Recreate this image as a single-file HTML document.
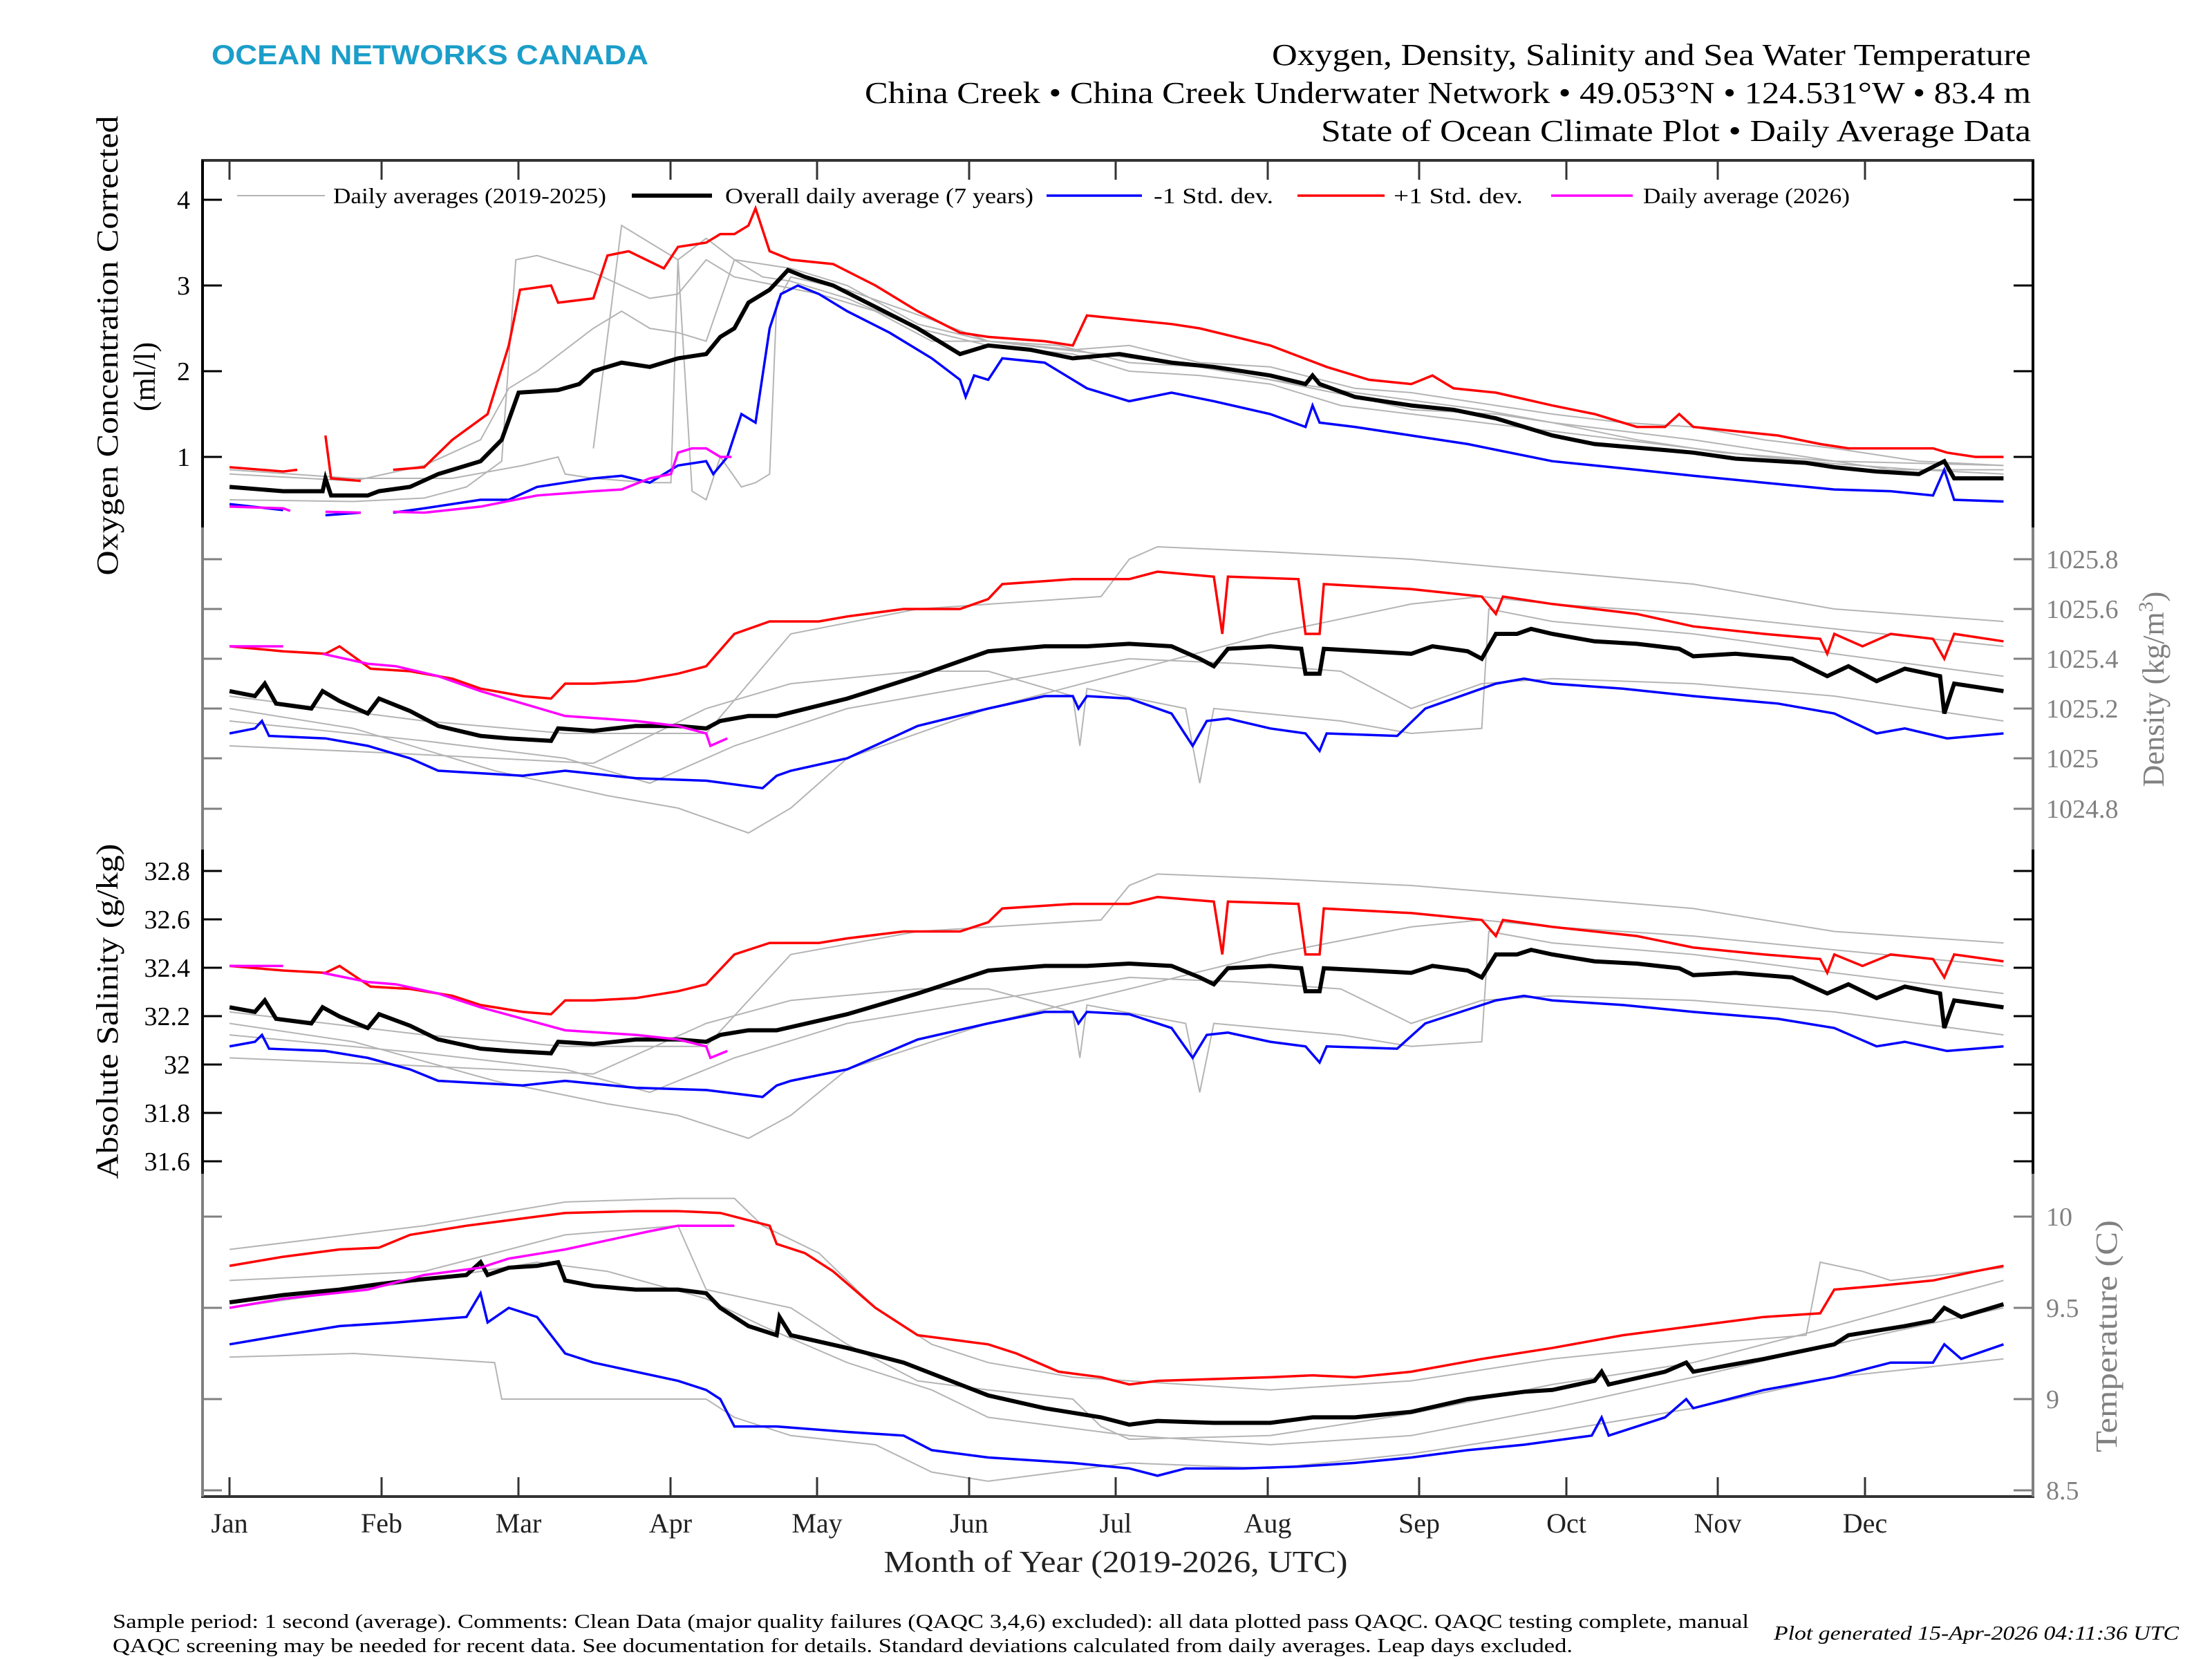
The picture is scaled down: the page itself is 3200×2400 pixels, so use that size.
<!DOCTYPE html>
<html><head><meta charset="utf-8"><style>
html,body{margin:0;padding:0;background:#fff}
svg{display:block}
text{font-family:"Liberation Serif","DejaVu Serif",serif}
</style></head><body>
<svg width="3200" height="2400" viewBox="0 0 3200 2400" xmlns="http://www.w3.org/2000/svg">
<defs>
<clipPath id="c1"><rect x="295" y="234" width="2644" height="528"/></clipPath>
<clipPath id="c2"><rect x="295" y="764" width="2644" height="464"/></clipPath>
<clipPath id="c3"><rect x="295" y="1230" width="2644" height="467"/></clipPath>
<clipPath id="c4"><rect x="295" y="1699" width="2644" height="464"/></clipPath>
<g id="dens" fill="none">
<g stroke="#b4b4b4" stroke-width="2">
<polyline vector-effect="non-scaling-stroke" points="162,0.2 250,0.12 350,-0.05 430,-0.15 480,-0.2 530,-0.3 560,-0.2 600,0 700,0.2 800,0.35 900,0.5 1000,0.62 1050,0.65 1100,0.62 1200,0.58 1300,0.52 1420,0.45"/>
<polyline vector-effect="non-scaling-stroke" points="162,0.25 300,0.15 400,0.1 500,0.1 560,0.5 650,0.6 780,0.65 800,0.8 820,0.85 900,0.83 1000,0.8 1100,0.75 1200,0.7 1300,0.6 1420,0.55"/>
<polyline vector-effect="non-scaling-stroke" points="162,0.05 280,0.02 350,0 420,-0.02 500,0.2 560,0.3 650,0.35 700,0.35 760,0.25 765,0.05 770,0.28 840,0.2 850,-0.1 860,0.2 950,0.15 1000,0.1 1050,0.12 1055,0.6 1100,0.55 1200,0.5 1300,0.42 1420,0.33"/>
<polyline vector-effect="non-scaling-stroke" points="162,0.15 300,0.07 400,0 460,-0.1 520,0.05 600,0.2 700,0.3 800,0.4 880,0.38 950,0.35 1000,0.2 1050,0.3 1100,0.32 1200,0.3 1300,0.25 1420,0.15"/>
</g>
<polyline vector-effect="non-scaling-stroke" stroke="#ff0000" stroke-width="3.5" points="162,0.45 200,0.43 230,0.42 240,0.45 262,0.36 290,0.35 320,0.32 340,0.28 370,0.25 390,0.24 400,0.3 420,0.3 450,0.31 480,0.34 500,0.37 520,0.5 545,0.55 580,0.55 600,0.57 640,0.6 680,0.6 700,0.64 710,0.7 760,0.72 800,0.72 820,0.75 860,0.73 866,0.5 870,0.73 920,0.72 925,0.5 935,0.5 938,0.7 1000,0.68 1050,0.65 1060,0.58 1065,0.65 1100,0.62 1130,0.6 1160,0.58 1200,0.53 1250,0.5 1290,0.48 1295,0.42 1300,0.5 1320,0.45 1340,0.5 1370,0.48 1378,0.4 1385,0.5 1420,0.47"/>
<polyline vector-effect="non-scaling-stroke" stroke="#0000ff" stroke-width="3.5" points="162,0.1 180,0.12 185,0.15 190,0.09 230,0.08 260,0.05 290,0 310,-0.05 340,-0.06 370,-0.07 400,-0.05 450,-0.08 500,-0.09 540,-0.12 550,-0.07 560,-0.05 600,0 650,0.13 700,0.2 740,0.25 760,0.25 764,0.2 770,0.25 800,0.24 830,0.18 845,0.05 855,0.15 870,0.16 900,0.12 925,0.1 935,0.03 940,0.1 990,0.09 1010,0.2 1060,0.3 1080,0.32 1100,0.3 1150,0.28 1200,0.25 1260,0.22 1300,0.18 1330,0.1 1350,0.12 1380,0.08 1420,0.1"/>
<polyline vector-effect="non-scaling-stroke" stroke="#000" stroke-width="6" points="162,0.27 180,0.25 187,0.3 195,0.22 220,0.2 228,0.27 240,0.23 260,0.18 268,0.24 290,0.19 310,0.13 340,0.09 360,0.08 390,0.07 395,0.12 420,0.11 450,0.13 480,0.13 500,0.12 510,0.15 530,0.17 550,0.17 600,0.24 650,0.33 680,0.39 700,0.43 740,0.45 770,0.45 800,0.46 830,0.45 850,0.4 860,0.37 870,0.44 900,0.45 922,0.44 925,0.34 935,0.34 938,0.44 970,0.43 1000,0.42 1015,0.45 1040,0.43 1050,0.4 1060,0.5 1075,0.5 1085,0.52 1100,0.5 1130,0.47 1160,0.46 1190,0.44 1200,0.41 1230,0.42 1270,0.4 1295,0.33 1310,0.37 1330,0.31 1350,0.36 1375,0.33 1378,0.18 1385,0.3 1420,0.27"/>
<polyline vector-effect="non-scaling-stroke" stroke="#ff00ff" stroke-width="3.5" points="162,0.45 200,0.45"/>
<polyline vector-effect="non-scaling-stroke" stroke="#ff00ff" stroke-width="3.5" points="228,0.42 260,0.38 280,0.37 310,0.33 340,0.27 370,0.22 400,0.17 450,0.15 480,0.13 500,0.1 503,0.05 515,0.08"/>
</g>
</defs>

<!-- Header -->
<text x="306" y="93" font-weight="bold" font-size="40" fill="#1b9ec9" textLength="632" lengthAdjust="spacingAndGlyphs" style="font-family:'Liberation Sans',sans-serif">OCEAN NETWORKS CANADA</text>
<text x="2938" y="94" font-size="44" text-anchor="end" textLength="1098" lengthAdjust="spacingAndGlyphs">Oxygen, Density, Salinity and Sea Water Temperature</text>
<text x="2938" y="149" font-size="44" text-anchor="end" textLength="1687" lengthAdjust="spacingAndGlyphs">China Creek • China Creek Underwater Network • 49.053°N • 124.531°W • 83.4 m</text>
<text x="2938" y="204" font-size="44" text-anchor="end" textLength="1027" lengthAdjust="spacingAndGlyphs">State of Ocean Climate Plot • Daily Average Data</text>

<!-- Series: Oxygen -->
<g clip-path="url(#c1)"><g transform="translate(1.6,785) scale(2.04,-124)" fill="none">
<g stroke="#b4b4b4" stroke-width="2">
<polyline vector-effect="non-scaling-stroke" points="162,0.8 250,0.72 300,0.9 340,1.2 360,1.8 380,2 420,2.5 440,2.7 460,2.5 480,2.45 500,2.35 520,3.3 560,3.2 600,3 650,2.55 700,2.35 760,2.25 800,2.3 850,2.1 900,2.05 960,1.8 1000,1.75 1060,1.6 1100,1.5 1150,1.4 1200,1.35 1250,1.2 1300,1.1 1360,0.95 1420,0.9"/>
<polyline vector-effect="non-scaling-stroke" points="162,0.5 250,0.48 300,0.52 330,0.65 355,0.95 365,3.3 380,3.35 400,3.25 420,3.15 440,3 460,2.85 480,2.9 500,3.3 520,3.1 550,3 580,2.9 620,2.7 660,2.35 700,2.35 750,2.3 800,2.1 850,2.05 900,1.9 960,1.7 1000,1.55 1060,1.5 1100,1.4 1150,1.3 1200,1.2 1280,1 1340,0.85 1420,0.85"/>
<polyline vector-effect="non-scaling-stroke" points="162,0.85 250,0.75 320,0.75 370,0.9 395,1 400,0.8 420,0.75 460,0.7 475,0.7 480,3.3 500,3.55 520,3.3 540,3.1 560,3.05 600,2.85 650,2.5 700,2.3 760,2.2 800,2 850,1.95 900,1.85 950,1.6 1000,1.5 1050,1.4 1100,1.3 1150,1.2 1200,1.1 1250,1 1300,0.92 1360,0.85 1420,0.8"/>
<polyline vector-effect="non-scaling-stroke" points="420,1.1 430,2.4 440,3.7 460,3.5 480,3.3 490,0.6 500,0.5 510,1 525,0.65 535,0.7 545,0.8 550,2.8 560,3.1 600,2.95 660,2.6 700,2.35 780,2.2 850,2.05 900,1.9 960,1.75 1050,1.55 1100,1.4 1160,1.2 1220,1.05 1300,0.95 1420,0.9"/>
</g>
<g stroke="#ff0000" stroke-width="3.5">
<polyline vector-effect="non-scaling-stroke" points="162,0.88 200,0.83 210,0.85"/>
<polyline vector-effect="non-scaling-stroke" points="230,1.25 234,0.75 255,0.72"/>
<polyline vector-effect="non-scaling-stroke" points="278,0.85 300,0.88 320,1.2 345,1.5 360,2.3 368,2.95 390,3 395,2.8 420,2.85 430,3.35 445,3.4 470,3.2 480,3.45 500,3.5 510,3.6 520,3.6 530,3.7 535,3.9 545,3.4 560,3.3 590,3.25 620,3 650,2.7 680,2.45 700,2.4 740,2.35 760,2.3 770,2.65 800,2.6 830,2.55 850,2.5 900,2.3 940,2.05 970,1.9 1000,1.85 1015,1.95 1030,1.8 1060,1.75 1100,1.6 1130,1.5 1160,1.35 1180,1.35 1190,1.5 1200,1.35 1230,1.3 1260,1.25 1290,1.15 1310,1.1 1340,1.1 1370,1.1 1380,1.05 1400,1 1420,1"/>
</g>
<g stroke="#0000ff" stroke-width="3.5">
<polyline vector-effect="non-scaling-stroke" points="162,0.45 200,0.38"/>
<polyline vector-effect="non-scaling-stroke" points="230,0.32 255,0.35"/>
<polyline vector-effect="non-scaling-stroke" points="278,0.35 300,0.4 340,0.5 360,0.5 380,0.65 400,0.7 420,0.75 440,0.78 460,0.7 480,0.9 500,0.95 505,0.8 515,1 525,1.5 535,1.4 545,2.5 553,2.9 565,3 580,2.9 600,2.7 630,2.45 660,2.15 680,1.9 684,1.7 690,1.95 700,1.9 710,2.15 740,2.1 770,1.8 800,1.65 830,1.75 860,1.65 900,1.5 925,1.35 930,1.6 935,1.4 960,1.35 1000,1.25 1040,1.15 1100,0.95 1130,0.9 1160,0.85 1200,0.78 1250,0.7 1300,0.62 1340,0.6 1370,0.55 1378,0.85 1385,0.5 1420,0.48"/>
</g>
<polyline vector-effect="non-scaling-stroke" stroke="#000" stroke-width="6" points="162,0.65 200,0.6 228,0.6 230,0.75 234,0.55 260,0.55 268,0.6 290,0.65 310,0.8 340,0.95 355,1.2 367,1.75 395,1.78 410,1.85 420,2 440,2.1 460,2.05 480,2.15 500,2.2 510,2.4 520,2.5 530,2.8 545,2.95 558,3.18 570,3.1 590,3 620,2.75 650,2.5 680,2.2 700,2.3 730,2.25 760,2.15 793,2.2 830,2.1 860,2.05 900,1.95 925,1.85 930,1.95 935,1.85 960,1.7 1000,1.6 1030,1.55 1060,1.45 1100,1.25 1130,1.15 1180,1.08 1200,1.05 1230,0.98 1280,0.93 1300,0.88 1330,0.83 1360,0.8 1378,0.95 1385,0.75 1420,0.75"/>
<g stroke="#ff00ff" stroke-width="3.5">
<polyline vector-effect="non-scaling-stroke" points="162,0.42 200,0.4 205,0.37"/>
<polyline vector-effect="non-scaling-stroke" points="230,0.36 255,0.35"/>
<polyline vector-effect="non-scaling-stroke" points="278,0.36 300,0.35 340,0.42 380,0.55 420,0.6 440,0.62 460,0.75 475,0.8 480,1.05 490,1.1 500,1.1 510,1 518,1"/>
</g>
</g></g>

<!-- Density & Salinity -->
<g clip-path="url(#c2)"><use href="#dens" transform="translate(1.6,1097) scale(2.04,-360)"/></g>
<g clip-path="url(#c3)"><use href="#dens" transform="translate(1.6,1547) scale(2.04,-332.5)"/></g>

<!-- Temperature -->
<g clip-path="url(#c4)"><g transform="translate(1.6,4400) scale(2.04,-264)" fill="none">
<g stroke="#b4b4b4" stroke-width="2">
<polyline vector-effect="non-scaling-stroke" points="162,9.82 300,9.95 400,10.08 480,10.1 520,10.1 540,9.95 580,9.8 620,9.5 660,9.3 700,9.2 760,9.12 800,9.1 900,9.05 1000,9.1 1100,9.22 1200,9.3 1280,9.35 1290,9.75 1320,9.7 1340,9.65 1420,9.72"/>
<polyline vector-effect="non-scaling-stroke" points="162,9.5 300,9.65 380,9.75 430,9.7 500,9.55 540,9.4 600,9.2 660,9.05 700,8.9 800,8.8 900,8.75 1000,8.8 1100,8.95 1200,9.12 1300,9.3 1420,9.5"/>
<polyline vector-effect="non-scaling-stroke" points="162,9.23 250,9.25 350,9.2 355,9 400,9 500,9 520,8.9 560,8.8 620,8.75 660,8.6 700,8.55 750,8.6 800,8.65 900,8.62 1000,8.7 1100,8.82 1200,8.95 1300,9.12 1420,9.22"/>
<polyline vector-effect="non-scaling-stroke" points="162,9.65 300,9.7 400,9.9 480,9.95 500,9.6 560,9.5 600,9.3 650,9.1 700,9.05 760,9 780,8.85 800,8.78 900,8.8 1000,8.92 1100,9.08 1200,9.2 1300,9.4 1420,9.65"/>
</g>
<polyline vector-effect="non-scaling-stroke" stroke="#ff0000" stroke-width="3.5" points="162,9.73 200,9.78 240,9.82 268,9.83 290,9.9 330,9.95 360,9.98 400,10.02 450,10.03 480,10.03 510,10.02 530,9.98 545,9.95 550,9.85 570,9.8 590,9.7 620,9.5 650,9.35 680,9.32 700,9.3 720,9.25 750,9.15 780,9.12 800,9.08 820,9.1 900,9.12 930,9.13 960,9.12 1000,9.15 1050,9.22 1100,9.28 1150,9.35 1200,9.4 1250,9.45 1290,9.47 1300,9.6 1330,9.62 1370,9.65 1400,9.7 1420,9.73"/>
<polyline vector-effect="non-scaling-stroke" stroke="#0000ff" stroke-width="3.5" points="162,9.3 200,9.35 240,9.4 280,9.42 330,9.45 340,9.58 345,9.42 360,9.5 380,9.45 400,9.25 420,9.2 480,9.1 500,9.05 510,9 520,8.85 550,8.85 600,8.82 640,8.8 660,8.72 700,8.68 760,8.65 800,8.62 820,8.58 840,8.62 880,8.62 920,8.63 960,8.65 1000,8.68 1040,8.72 1080,8.75 1128,8.8 1135,8.9 1140,8.8 1180,8.9 1195,9 1200,8.95 1250,9.05 1300,9.12 1340,9.2 1370,9.2 1378,9.3 1390,9.22 1420,9.3"/>
<polyline vector-effect="non-scaling-stroke" stroke="#000" stroke-width="6" points="162,9.53 200,9.57 240,9.6 268,9.63 290,9.65 330,9.68 340,9.75 345,9.68 360,9.72 380,9.73 395,9.75 400,9.65 420,9.62 450,9.6 480,9.6 500,9.58 510,9.5 530,9.4 550,9.35 552,9.45 560,9.35 600,9.28 640,9.2 680,9.08 700,9.02 740,8.95 780,8.9 800,8.86 820,8.88 860,8.87 900,8.87 930,8.9 960,8.9 1000,8.93 1040,9 1080,9.04 1100,9.05 1130,9.1 1135,9.15 1140,9.08 1180,9.15 1195,9.2 1200,9.15 1250,9.22 1300,9.3 1310,9.35 1350,9.4 1370,9.43 1378,9.5 1390,9.45 1420,9.52"/>
<polyline vector-effect="non-scaling-stroke" stroke="#ff00ff" stroke-width="3.5" points="162,9.5 200,9.55 260,9.6 300,9.68 340,9.72 360,9.77 400,9.82 430,9.87 460,9.92 480,9.95 520,9.95"/>
</g></g>

<!-- Axes -->
<g stroke-width="4">
<line x1="291" y1="232" x2="2943" y2="232" stroke="#333"/>
<line x1="291" y1="2165" x2="2943" y2="2165" stroke="#333"/>
<line x1="293" y1="232" x2="293" y2="763" stroke="#000"/>
<line x1="293" y1="763" x2="293" y2="1229" stroke="#808080"/>
<line x1="293" y1="1229" x2="293" y2="1698" stroke="#000"/>
<line x1="293" y1="1698" x2="293" y2="2165" stroke="#808080"/>
<line x1="2941" y1="232" x2="2941" y2="763" stroke="#000"/>
<line x1="2941" y1="763" x2="2941" y2="1229" stroke="#808080"/>
<line x1="2941" y1="1229" x2="2941" y2="1698" stroke="#000"/>
<line x1="2941" y1="1698" x2="2941" y2="2165" stroke="#808080"/>
</g>
<g stroke="#333" stroke-width="3">
<path d="M332 232v28M552 232v28M750 232v28M970 232v28M1182 232v28M1402 232v28M1614 232v28M1834 232v28M2053 232v28M2266 232v28M2485 232v28M2698 232v28"/>
<path d="M332 2165v-28M552 2165v-28M750 2165v-28M970 2165v-28M1182 2165v-28M1402 2165v-28M1614 2165v-28M1834 2165v-28M2053 2165v-28M2266 2165v-28M2485 2165v-28M2698 2165v-28"/>
</g>
<g stroke="#000" stroke-width="3">
<path d="M293 289h28M293 413h28M293 537h28M293 661h28M2941 289h-28M2941 413h-28M2941 537h-28M2941 661h-28"/>
<path d="M293 1260h28M293 1330h28M293 1400h28M293 1470h28M293 1540h28M293 1610h28M293 1680h28M2941 1260h-28M2941 1330h-28M2941 1400h-28M2941 1470h-28M2941 1540h-28M2941 1610h-28M2941 1680h-28"/>
</g>
<g stroke="#808080" stroke-width="3">
<path d="M293 809h28M293 881h28M293 953h28M293 1025h28M293 1097h28M293 1170h28M2941 809h-28M2941 881h-28M2941 953h-28M2941 1025h-28M2941 1097h-28M2941 1170h-28"/>
<path d="M293 1760h28M293 1892h28M293 2024h28M293 2156h28M2941 1760h-28M2941 1892h-28M2941 2024h-28M2941 2156h-28"/>
</g>

<!-- Tick labels -->
<g font-size="38" text-anchor="end" fill="#000">
<text x="275" y="302">4</text><text x="275" y="426">3</text><text x="275" y="550">2</text><text x="275" y="674">1</text>
<text x="275" y="1273">32.8</text><text x="275" y="1343">32.6</text><text x="275" y="1413">32.4</text><text x="275" y="1483">32.2</text><text x="275" y="1553">32</text><text x="275" y="1623">31.8</text><text x="275" y="1693">31.6</text>
</g>
<g font-size="38" fill="#808080">
<text x="2960" y="822">1025.8</text><text x="2960" y="894">1025.6</text><text x="2960" y="966">1025.4</text><text x="2960" y="1038">1025.2</text><text x="2960" y="1110">1025</text><text x="2960" y="1183">1024.8</text>
<text x="2960" y="1773">10</text><text x="2960" y="1905">9.5</text><text x="2960" y="2037">9</text><text x="2960" y="2169">8.5</text>
</g>
<g font-size="40" text-anchor="middle" fill="#222">
<text x="332" y="2217">Jan</text><text x="552" y="2217">Feb</text><text x="750" y="2217">Mar</text><text x="970" y="2217">Apr</text><text x="1182" y="2217">May</text><text x="1402" y="2217">Jun</text><text x="1614" y="2217">Jul</text><text x="1834" y="2217">Aug</text><text x="2053" y="2217">Sep</text><text x="2266" y="2217">Oct</text><text x="2485" y="2217">Nov</text><text x="2698" y="2217">Dec</text>
</g>
<text x="1614" y="2274" font-size="44" text-anchor="middle" fill="#222" textLength="671" lengthAdjust="spacingAndGlyphs">Month of Year (2019-2026, UTC)</text>

<!-- Axis labels -->
<text transform="translate(170,500) rotate(-90)" font-size="44" text-anchor="middle" textLength="665" lengthAdjust="spacingAndGlyphs">Oxygen Concentration Corrected</text>
<text transform="translate(224,545) rotate(-90)" font-size="44" text-anchor="middle">(ml/l)</text>
<text transform="translate(170,1463) rotate(-90)" font-size="44" text-anchor="middle" textLength="485" lengthAdjust="spacingAndGlyphs">Absolute Salinity (g/kg)</text>
<text transform="translate(3130,997) rotate(-90)" font-size="44" text-anchor="middle" fill="#808080">Density (kg/m<tspan dy="-16" font-size="30">3</tspan><tspan dy="16">)</tspan></text>
<text transform="translate(3062,1933) rotate(-90)" font-size="44" text-anchor="middle" fill="#808080" textLength="336" lengthAdjust="spacingAndGlyphs">Temperature (C)</text>

<!-- Legend -->
<g stroke-linecap="butt">
<line x1="343" y1="283" x2="470" y2="283" stroke="#b4b4b4" stroke-width="2"/>
<line x1="914" y1="283" x2="1030" y2="283" stroke="#000" stroke-width="6"/>
<line x1="1514" y1="283" x2="1652" y2="283" stroke="#0000ff" stroke-width="3.5"/>
<line x1="1877" y1="283" x2="2003" y2="283" stroke="#ff0000" stroke-width="3.5"/>
<line x1="2244" y1="283" x2="2362" y2="283" stroke="#ff00ff" stroke-width="3.5"/>
</g>
<g font-size="32">
<text x="482" y="294" textLength="395" lengthAdjust="spacingAndGlyphs">Daily averages (2019-2025)</text>
<text x="1049" y="294" textLength="446" lengthAdjust="spacingAndGlyphs">Overall daily average (7 years)</text>
<text x="1669" y="294" textLength="173" lengthAdjust="spacingAndGlyphs">-1 Std. dev.</text>
<text x="2016" y="294" textLength="187" lengthAdjust="spacingAndGlyphs">+1 Std. dev.</text>
<text x="2377" y="294" textLength="299" lengthAdjust="spacingAndGlyphs">Daily average (2026)</text>
</g>

<!-- Footer -->
<g font-size="28">
<text x="163" y="2355" textLength="2367" lengthAdjust="spacingAndGlyphs">Sample period: 1 second (average). Comments: Clean Data (major quality failures (QAQC 3,4,6) excluded): all data plotted pass QAQC. QAQC testing complete, manual</text>
<text x="163" y="2390" textLength="2112" lengthAdjust="spacingAndGlyphs">QAQC screening may be needed for recent data. See documentation for details. Standard deviations calculated from daily averages. Leap days excluded.</text>
<text x="2566" y="2372" font-style="italic" textLength="586" lengthAdjust="spacingAndGlyphs">Plot generated 15-Apr-2026 04:11:36 UTC</text>
</g>
</svg>
</body></html>
